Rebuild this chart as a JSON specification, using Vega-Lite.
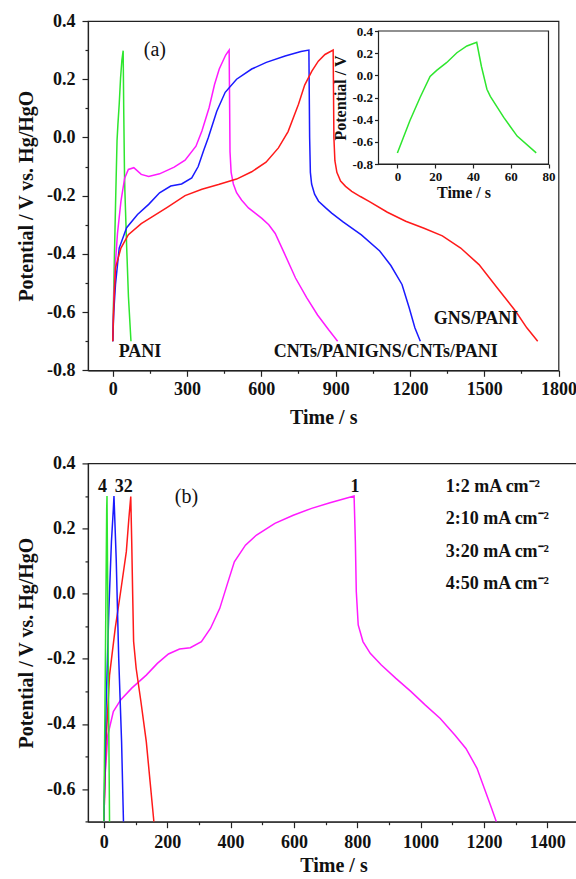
{
  "$schema": "https://vega.github.io/schema/vega-lite/v6.json",
  "background": "white",
  "padding": {"left": 15, "top": 11, "right": 0, "bottom": 0},
  "config": {
    "view": {"stroke": "#222", "strokeWidth": 1.2},
    "font": "Liberation Serif",
    "axis": {
      "labelFont": "Liberation Serif", "labelFontWeight": "bold", "labelFontSize": 18, "labelColor": "#111",
      "titleFont": "Liberation Serif", "titleFontWeight": "bold", "titleFontSize": 20, "titleColor": "#111",
      "domainColor": "#222", "tickColor": "#222", "domainWidth": 1.2, "tickWidth": 1.2, "tickSize": 6,
      "grid": false, "labelOverlap": false, "labelFlush": false, "labelPadding": 7, "titlePadding": 10
    }
  },
  "resolve": {"scale": {"color": "independent"}},
  "datasets": {
    "a": [
      {"s":"PANI","t":0,"v":-0.70},{"s":"PANI","t":6.6,"v":-0.41},{"s":"PANI","t":12,"v":-0.20},{"s":"PANI","t":17.3,"v":-0.01},{"s":"PANI","t":20.8,"v":0.045},{"s":"PANI","t":26,"v":0.114},{"s":"PANI","t":31.5,"v":0.204},{"s":"PANI","t":36.8,"v":0.265},{"s":"PANI","t":42,"v":0.298},{"s":"PANI","t":44.5,"v":0.08},{"s":"PANI","t":47.4,"v":-0.126},{"s":"PANI","t":49.2,"v":-0.19},{"s":"PANI","t":56.3,"v":-0.38},{"s":"PANI","t":63.4,"v":-0.548},{"s":"PANI","t":73.5,"v":-0.70},
      {"s":"CNTs/PANI","t":0,"v":-0.70},{"s":"CNTs/PANI","t":4,"v":-0.56},{"s":"CNTs/PANI","t":11,"v":-0.43},{"s":"CNTs/PANI","t":19,"v":-0.33},{"s":"CNTs/PANI","t":33,"v":-0.22},{"s":"CNTs/PANI","t":48,"v":-0.14},{"s":"CNTs/PANI","t":63,"v":-0.11},{"s":"CNTs/PANI","t":85,"v":-0.104},{"s":"CNTs/PANI","t":115,"v":-0.127},{"s":"CNTs/PANI","t":145,"v":-0.134},{"s":"CNTs/PANI","t":189,"v":-0.125},{"s":"CNTs/PANI","t":248,"v":-0.102},{"s":"CNTs/PANI","t":292,"v":-0.078},{"s":"CNTs/PANI","t":336,"v":-0.03},{"s":"CNTs/PANI","t":360,"v":0.022},{"s":"CNTs/PANI","t":389,"v":0.102},{"s":"CNTs/PANI","t":411,"v":0.182},{"s":"CNTs/PANI","t":430,"v":0.235},{"s":"CNTs/PANI","t":456,"v":0.283},{"s":"CNTs/PANI","t":470,"v":0.30},{"s":"CNTs/PANI","t":472,"v":0.1},{"s":"CNTs/PANI","t":473.5,"v":-0.05},{"s":"CNTs/PANI","t":478,"v":-0.12},{"s":"CNTs/PANI","t":487,"v":-0.16},{"s":"CNTs/PANI","t":500,"v":-0.19},{"s":"CNTs/PANI","t":520,"v":-0.215},{"s":"CNTs/PANI","t":548,"v":-0.242},{"s":"CNTs/PANI","t":575,"v":-0.26},{"s":"CNTs/PANI","t":602,"v":-0.278},{"s":"CNTs/PANI","t":630,"v":-0.30},{"s":"CNTs/PANI","t":656,"v":-0.33},{"s":"CNTs/PANI","t":694,"v":-0.40},{"s":"CNTs/PANI","t":738,"v":-0.483},{"s":"CNTs/PANI","t":783,"v":-0.55},{"s":"CNTs/PANI","t":827,"v":-0.61},{"s":"CNTs/PANI","t":871,"v":-0.66},{"s":"CNTs/PANI","t":908,"v":-0.70},
      {"s":"GNS/CNTs/PANI","t":0,"v":-0.70},{"s":"GNS/CNTs/PANI","t":4,"v":-0.60},{"s":"GNS/CNTs/PANI","t":11,"v":-0.505},{"s":"GNS/CNTs/PANI","t":26,"v":-0.38},{"s":"GNS/CNTs/PANI","t":56,"v":-0.31},{"s":"GNS/CNTs/PANI","t":100,"v":-0.265},{"s":"GNS/CNTs/PANI","t":145,"v":-0.23},{"s":"GNS/CNTs/PANI","t":189,"v":-0.19},{"s":"GNS/CNTs/PANI","t":234,"v":-0.167},{"s":"GNS/CNTs/PANI","t":278,"v":-0.16},{"s":"GNS/CNTs/PANI","t":319,"v":-0.139},{"s":"GNS/CNTs/PANI","t":345,"v":-0.1},{"s":"GNS/CNTs/PANI","t":367,"v":-0.045},{"s":"GNS/CNTs/PANI","t":386,"v":0.0},{"s":"GNS/CNTs/PANI","t":420,"v":0.09},{"s":"GNS/CNTs/PANI","t":454,"v":0.155},{"s":"GNS/CNTs/PANI","t":500,"v":0.2},{"s":"GNS/CNTs/PANI","t":561,"v":0.235},{"s":"GNS/CNTs/PANI","t":620,"v":0.258},{"s":"GNS/CNTs/PANI","t":696,"v":0.28},{"s":"GNS/CNTs/PANI","t":760,"v":0.295},{"s":"GNS/CNTs/PANI","t":792,"v":0.30},{"s":"GNS/CNTs/PANI","t":795,"v":0.0},{"s":"GNS/CNTs/PANI","t":798,"v":-0.12},{"s":"GNS/CNTs/PANI","t":803,"v":-0.16},{"s":"GNS/CNTs/PANI","t":815,"v":-0.195},{"s":"GNS/CNTs/PANI","t":831,"v":-0.219},{"s":"GNS/CNTs/PANI","t":860,"v":-0.242},{"s":"GNS/CNTs/PANI","t":884,"v":-0.26},{"s":"GNS/CNTs/PANI","t":930,"v":-0.29},{"s":"GNS/CNTs/PANI","t":1004,"v":-0.335},{"s":"GNS/CNTs/PANI","t":1078,"v":-0.39},{"s":"GNS/CNTs/PANI","t":1123,"v":-0.44},{"s":"GNS/CNTs/PANI","t":1168,"v":-0.505},{"s":"GNS/CNTs/PANI","t":1197,"v":-0.585},{"s":"GNS/CNTs/PANI","t":1220,"v":-0.654},{"s":"GNS/CNTs/PANI","t":1242,"v":-0.70},
      {"s":"GNS/PANI","t":0,"v":-0.70},{"s":"GNS/PANI","t":4,"v":-0.58},{"s":"GNS/PANI","t":11,"v":-0.448},{"s":"GNS/PANI","t":33,"v":-0.38},{"s":"GNS/PANI","t":63,"v":-0.334},{"s":"GNS/PANI","t":115,"v":-0.296},{"s":"GNS/PANI","t":157,"v":-0.274},{"s":"GNS/PANI","t":220,"v":-0.24},{"s":"GNS/PANI","t":292,"v":-0.2},{"s":"GNS/PANI","t":360,"v":-0.178},{"s":"GNS/PANI","t":427,"v":-0.162},{"s":"GNS/PANI","t":500,"v":-0.143},{"s":"GNS/PANI","t":561,"v":-0.118},{"s":"GNS/PANI","t":619,"v":-0.085},{"s":"GNS/PANI","t":669,"v":-0.036},{"s":"GNS/PANI","t":708,"v":0.02},{"s":"GNS/PANI","t":750,"v":0.114},{"s":"GNS/PANI","t":775,"v":0.18},{"s":"GNS/PANI","t":804,"v":0.228},{"s":"GNS/PANI","t":830,"v":0.262},{"s":"GNS/PANI","t":857,"v":0.285},{"s":"GNS/PANI","t":890,"v":0.30},{"s":"GNS/PANI","t":893,"v":0.0},{"s":"GNS/PANI","t":897,"v":-0.08},{"s":"GNS/PANI","t":905,"v":-0.12},{"s":"GNS/PANI","t":920,"v":-0.15},{"s":"GNS/PANI","t":940,"v":-0.168},{"s":"GNS/PANI","t":965,"v":-0.185},{"s":"GNS/PANI","t":1000,"v":-0.203},{"s":"GNS/PANI","t":1035,"v":-0.22},{"s":"GNS/PANI","t":1109,"v":-0.257},{"s":"GNS/PANI","t":1183,"v":-0.288},{"s":"GNS/PANI","t":1257,"v":-0.312},{"s":"GNS/PANI","t":1331,"v":-0.338},{"s":"GNS/PANI","t":1405,"v":-0.38},{"s":"GNS/PANI","t":1479,"v":-0.437},{"s":"GNS/PANI","t":1553,"v":-0.517},{"s":"GNS/PANI","t":1627,"v":-0.597},{"s":"GNS/PANI","t":1672,"v":-0.654},{"s":"GNS/PANI","t":1716,"v":-0.70}
    ],
    "inset": [
      {"t":0,"v":-0.70},{"t":6.6,"v":-0.41},{"t":12,"v":-0.20},{"t":17.3,"v":-0.01},{"t":20.8,"v":0.045},{"t":26,"v":0.114},{"t":31.5,"v":0.204},{"t":36.8,"v":0.265},{"t":42,"v":0.298},{"t":44.5,"v":0.08},{"t":47.4,"v":-0.126},{"t":49.2,"v":-0.19},{"t":56.3,"v":-0.38},{"t":63.4,"v":-0.548},{"t":73.5,"v":-0.70}
    ],
    "atext": [
      {"t":24,"v":-0.755,"label":"PANI"},
      {"t":650,"v":-0.755,"label":"CNTs/PANIGNS/CNTs/PANI"},
      {"t":1296,"v":-0.642,"label":"GNS/PANI"}
    ],
    "b": [
      {"s":"1","t":0,"v":-0.70},{"s":"1","t":4,"v":-0.557},{"s":"1","t":12.6,"v":-0.434},{"s":"1","t":30,"v":-0.362},{"s":"1","t":53,"v":-0.326},{"s":"1","t":88,"v":-0.29},{"s":"1","t":134,"v":-0.25},{"s":"1","t":169,"v":-0.214},{"s":"1","t":204,"v":-0.185},{"s":"1","t":239,"v":-0.17},{"s":"1","t":273,"v":-0.166},{"s":"1","t":308,"v":-0.147},{"s":"1","t":337,"v":-0.106},{"s":"1","t":366,"v":-0.045},{"s":"1","t":389,"v":0.027},{"s":"1","t":412,"v":0.098},{"s":"1","t":447,"v":0.149},{"s":"1","t":482,"v":0.18},{"s":"1","t":540,"v":0.216},{"s":"1","t":598,"v":0.241},{"s":"1","t":656,"v":0.262},{"s":"1","t":714,"v":0.279},{"s":"1","t":790,"v":0.30},{"s":"1","t":794,"v":0.16},{"s":"1","t":797,"v":0.006},{"s":"1","t":803,"v":-0.096},{"s":"1","t":818,"v":-0.147},{"s":"1","t":841,"v":-0.183},{"s":"1","t":876,"v":-0.219},{"s":"1","t":922,"v":-0.26},{"s":"1","t":969,"v":-0.30},{"s":"1","t":1015,"v":-0.342},{"s":"1","t":1062,"v":-0.383},{"s":"1","t":1108,"v":-0.434},{"s":"1","t":1143,"v":-0.475},{"s":"1","t":1178,"v":-0.536},{"s":"1","t":1201,"v":-0.597},{"s":"1","t":1224,"v":-0.659},{"s":"1","t":1239,"v":-0.70},
      {"s":"2","t":0,"v":-0.70},{"s":"2","t":7,"v":-0.454},{"s":"2","t":18,"v":-0.25},{"s":"2","t":36,"v":-0.106},{"s":"2","t":53,"v":0.006},{"s":"2","t":71,"v":0.129},{"s":"2","t":79,"v":0.231},{"s":"2","t":85,"v":0.298},{"s":"2","t":88,"v":0.16},{"s":"2","t":91,"v":0.0},{"s":"2","t":94,"v":-0.147},{"s":"2","t":102,"v":-0.229},{"s":"2","t":117,"v":-0.331},{"s":"2","t":134,"v":-0.454},{"s":"2","t":146,"v":-0.577},{"s":"2","t":158,"v":-0.70},
      {"s":"3","t":0,"v":-0.70},{"s":"3","t":7,"v":-0.35},{"s":"3","t":16,"v":-0.045},{"s":"3","t":24,"v":0.16},{"s":"3","t":30,"v":0.26},{"s":"3","t":32,"v":0.30},{"s":"3","t":39,"v":0.108},{"s":"3","t":47,"v":-0.2},{"s":"3","t":56,"v":-0.454},{"s":"3","t":62,"v":-0.70},
      {"s":"4","t":0,"v":-0.70},{"s":"4","t":4.5,"v":-0.25},{"s":"4","t":9,"v":0.26},{"s":"4","t":10,"v":0.30},{"s":"4","t":12.6,"v":-0.045},{"s":"4","t":16,"v":-0.454},{"s":"4","t":18,"v":-0.70}
    ],
    "btext": [
      {"t":-4,"v":0.313,"label":"4"},
      {"t":63,"v":0.313,"label":"32"},
      {"t":793,"v":0.313,"label":"1"}
    ],
    "blegend": [
      {"t":1079,"v":0.313,"label":"1:2 mA cm⁻²"},
      {"t":1079,"v":0.213,"label":"2:10 mA cm⁻²"},
      {"t":1079,"v":0.114,"label":"3:20 mA cm⁻²"},
      {"t":1079,"v":0.013,"label":"4:50 mA cm⁻²"}
    ]
  },
  "bounds": "flush",
  "spacing": 92.4,
  "vconcat": [
    {
      "width": 470.5,
      "height": 349.3,
      "resolve": {"scale": {"x": "independent", "y": "independent"}, "axis": {"x": "independent", "y": "independent"}},
      "layer": [
        {
          "resolve": {"axis": {"x": "independent", "y": "independent"}},
          "layer": [
            {
              "layer": [
                {
                  "data": {"name": "a"},
                  "mark": {"type": "line", "strokeWidth": 1.5},
                  "encoding": {
                    "x": {"field": "t", "type": "quantitative",
                      "scale": {"domain": [-100, 1800], "nice": false, "zero": false},
                      "axis": {"orient": "bottom", "title": "Time / s", "titlePadding": 9, "labelPadding": 4, "format": "d",
                        "values": [0,300,600,900,1200,1500,1800]}},
                    "y": {"field": "v", "type": "quantitative",
                      "scale": {"domain": [-0.8, 0.4], "nice": false, "zero": false},
                      "axis": {"orient": "left", "title": "Potential / V vs. Hg/HgO", "format": ".1f",
                        "values": [-0.8,-0.6,-0.4,-0.2,0,0.2,0.4],
                        "labelExpr": "replace(datum.label, '\u2212', '-')"}},
                    "color": {"field": "s", "type": "nominal", "legend": null,
                      "scale": {"domain": ["PANI", "CNTs/PANI", "GNS/CNTs/PANI", "GNS/PANI"], "range": ["#2ee62e", "#ff1aff", "#1a1aff", "#ff1a1a"]}}
                  }
                },
                {
                  "data": {"name": "atext"},
                  "mark": {"type": "text", "align": "left", "baseline": "alphabetic", "font": "Liberation Serif", "fontWeight": "bold", "fontSize": 18, "color": "#111"},
                  "encoding": {
                    "x": {"field": "t", "type": "quantitative"},
                    "y": {"field": "v", "type": "quantitative"},
                    "text": {"field": "label"}
                  }
                },
                {
                  "data": {"values": [{"t": 170, "v": 0.299, "label": "(a)"}]},
                  "mark": {"type": "text", "align": "center", "baseline": "middle", "font": "Liberation Serif", "fontWeight": "normal", "fontSize": 20, "color": "#111"},
                  "encoding": {
                    "x": {"field": "t", "type": "quantitative"},
                    "y": {"field": "v", "type": "quantitative"},
                    "text": {"field": "label"}
                  }
                }
              ]
            },
            {
              "data": {"values": [{}]},
              "mark": {"type": "point", "opacity": 0},
              "encoding": {
                "x": {"datum": 0, "type": "quantitative",
                  "axis": {"orient": "bottom", "title": null, "labels": false, "domain": false, "tickSize": 3,
                    "values": [150,450,750,1050,1350,1650]}},
                "y": {"datum": 0, "type": "quantitative",
                  "axis": {"orient": "left", "title": null, "labels": false, "domain": false, "tickSize": 3,
                    "values": [-0.7,-0.5,-0.3,-0.1,0.1,0.3]}}
              }
            }
          ]
        },
        {
          "layer": [
            {
              "data": {"values": [{}]},
              "mark": {"type": "rect", "fill": "white", "stroke": "#222", "strokeWidth": 1.2},
              "encoding": {
                "x": {"datum": -10, "type": "quantitative",
                  "scale": {"domain": [-10, 80], "range": [290.5, 460.5], "nice": false, "zero": false},
                  "axis": {"orient": "bottom", "offset": -206.3, "title": "Time / s", "titleFontSize": 16, "titlePadding": 1,
                    "labelFontSize": 13, "labelPadding": 2, "tickSize": 4, "format": "d",
                    "values": [0,20,40,60,80]}},
                "x2": {"datum": 80},
                "y": {"datum": -0.8, "type": "quantitative",
                  "scale": {"domain": [-0.8, 0.4], "range": [143, 10], "nice": false, "zero": false},
                  "axis": {"orient": "left", "offset": -290.5, "title": "Potential / V", "titleFontSize": 16, "titlePadding": 3,
                    "labelFontSize": 13, "labelPadding": 2, "tickSize": 4, "format": ".1f",
                    "values": [-0.8,-0.6,-0.4,-0.2,0,0.2,0.4],
                    "labelExpr": "replace(datum.label, '\u2212', '-')"}},
                "y2": {"datum": 0.4}
              }
            },
            {
              "data": {"name": "inset"},
              "mark": {"type": "line", "color": "#2ee62e", "strokeWidth": 1.5},
              "encoding": {
                "x": {"field": "t", "type": "quantitative"},
                "y": {"field": "v", "type": "quantitative"}
              }
            }
          ]
        }
      ]
    },
    {
      "width": 491,
      "height": 358.3,
      "resolve": {"axis": {"x": "independent", "y": "independent"}},
      "layer": [
        {
          "layer": [
            {
              "data": {"name": "b"},
              "mark": {"type": "line", "strokeWidth": 1.5, "clip": true},
              "encoding": {
                "x": {"field": "t", "type": "quantitative",
                  "scale": {"domain": [-50, 1500], "nice": false, "zero": false},
                  "axis": {"orient": "bottom", "title": "Time / s", "titlePadding": 4, "labelPadding": 6, "format": "d",
                    "values": [0,200,400,600,800,1000,1200,1400]}},
                "y": {"field": "v", "type": "quantitative",
                  "scale": {"domain": [-0.7, 0.4], "nice": false, "zero": false},
                  "axis": {"orient": "left", "title": "Potential / V vs. Hg/HgO", "format": ".1f",
                    "values": [-0.6,-0.4,-0.2,0,0.2,0.4],
                    "labelExpr": "replace(datum.label, '\u2212', '-')"}},
                "color": {"field": "s", "type": "nominal", "legend": null,
                  "scale": {"domain": ["1", "2", "3", "4"], "range": ["#ff1aff", "#ff1a1a", "#1a1aff", "#2ee62e"]}}
              }
            },
            {
              "data": {"name": "btext"},
              "mark": {"type": "text", "align": "center", "baseline": "alphabetic", "font": "Liberation Serif", "fontWeight": "bold", "fontSize": 18, "color": "#111"},
              "encoding": {
                "x": {"field": "t", "type": "quantitative"},
                "y": {"field": "v", "type": "quantitative"},
                "text": {"field": "label"}
              }
            },
            {
              "data": {"name": "blegend"},
              "mark": {"type": "text", "align": "left", "baseline": "alphabetic", "font": "Liberation Serif", "fontWeight": "bold", "fontSize": 18, "color": "#111"},
              "encoding": {
                "x": {"field": "t", "type": "quantitative"},
                "y": {"field": "v", "type": "quantitative"},
                "text": {"field": "label"}
              }
            },
            {
              "data": {"values": [{"t": 261, "v": 0.298, "label": "(b)"}]},
              "mark": {"type": "text", "align": "center", "baseline": "middle", "font": "Liberation Serif", "fontWeight": "normal", "fontSize": 20, "color": "#111"},
              "encoding": {
                "x": {"field": "t", "type": "quantitative"},
                "y": {"field": "v", "type": "quantitative"},
                "text": {"field": "label"}
              }
            }
          ]
        },
        {
          "data": {"values": [{}]},
          "mark": {"type": "point", "opacity": 0},
          "encoding": {
            "x": {"datum": 0, "type": "quantitative",
              "axis": {"orient": "bottom", "title": null, "labels": false, "domain": false, "tickSize": 3,
                "values": [100,300,500,700,900,1100,1300,1500]}},
            "y": {"datum": 0, "type": "quantitative",
              "axis": {"orient": "left", "title": null, "labels": false, "domain": false, "tickSize": 3,
                "values": [-0.7,-0.5,-0.3,-0.1,0.1,0.3]}}
          }
        }
      ]
    }
  ]
}
